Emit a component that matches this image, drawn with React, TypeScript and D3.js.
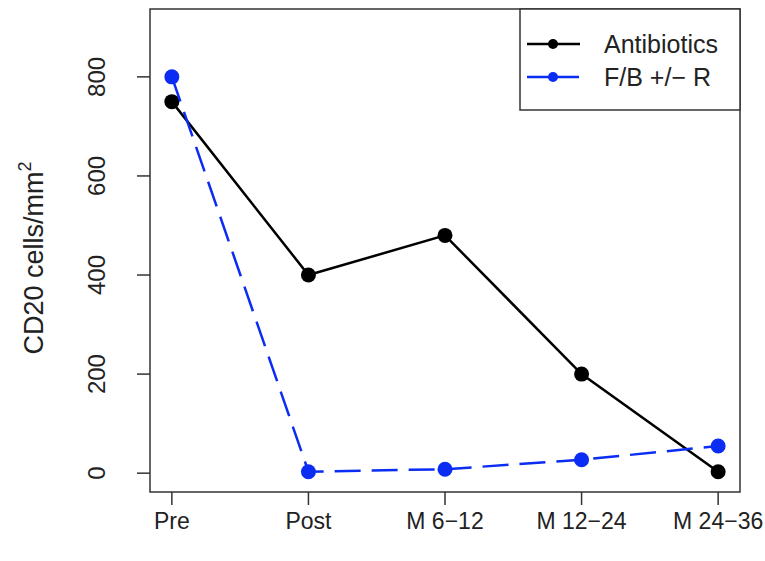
import React, { useRef, useEffect } from 'react';
import * as d3 from 'd3';

const categories = ['Pre', 'Post', 'M 6\u221212', 'M 12\u221224', 'M 24\u221236'];
const antibiotics = [750, 400, 480, 200, 3];
const fbr = [800, 3, 8, 27, 55];
const yTicks = [0, 200, 400, 600, 800];
const seriesNames = ['Antibiotics', 'F/B +/\u2212 R'];

const W = 765;
const H = 561;
const BLUE = '#0b2cf2';

const App = () => {
  const svgRef = useRef<SVGSVGElement>(null);

  useEffect(() => {
    const svg = d3.select(svgRef.current);
    svg.selectAll('*').remove();

    const left = 150, right = 740, top = 9, bottom = 492;
    const font = 'Liberation Sans, Arial, Helvetica, sans-serif';

    const x = d3.scaleLinear().domain([0.84, 5.16]).range([left, right]);
    const y = d3.scaleLinear().domain([-38, 937]).range([bottom, top]);

    // box
    svg.append('rect')
      .attr('x', left).attr('y', top)
      .attr('width', right - left).attr('height', bottom - top)
      .attr('fill', 'none').attr('stroke', '#333').attr('stroke-width', 1.5);

    // y axis
    const yAxis = svg.append('g');
    yAxis.selectAll('line.tick')
      .data(yTicks)
      .enter().append('line')
      .attr('class', 'tick')
      .attr('x1', left - 13).attr('x2', left)
      .attr('y1', d => y(d)).attr('y2', d => y(d))
      .attr('stroke', '#333').attr('stroke-width', 1.5);
    yAxis.selectAll('text')
      .data(yTicks)
      .enter().append('text')
      .attr('transform', d => `translate(${left - 45}, ${y(d)}) rotate(-90)`)
      .attr('text-anchor', 'middle')
      .attr('font-family', font)
      .attr('font-size', 24)
      .attr('fill', '#222')
      .text(d => d);

    // y label
    const yl = svg.append('text')
      .attr('transform', `translate(43, 258) rotate(-90)`)
      .attr('text-anchor', 'middle')
      .attr('font-family', font)
      .attr('font-size', 27)
      .attr('fill', '#222');
    yl.append('tspan').text('CD20 cells/mm');
    yl.append('tspan').attr('dy', -12).attr('font-size', 18).text('2');

    // x axis
    const xAxis = svg.append('g');
    xAxis.selectAll('line')
      .data(categories)
      .enter().append('line')
      .attr('x1', (d, i) => x(i + 1)).attr('x2', (d, i) => x(i + 1))
      .attr('y1', bottom).attr('y2', bottom + 13)
      .attr('stroke', '#333').attr('stroke-width', 1.5);
    xAxis.selectAll('text')
      .data(categories)
      .enter().append('text')
      .attr('x', (d, i) => x(i + 1))
      .attr('y', bottom + 37)
      .attr('text-anchor', 'middle')
      .attr('font-family', font)
      .attr('font-size', 23)
      .attr('fill', '#222')
      .text(d => d);

    const line = d3.line<number>()
      .x((d, i) => x(i + 1))
      .y(d => y(d));

    // antibiotics
    svg.append('path')
      .datum(antibiotics)
      .attr('d', line)
      .attr('fill', 'none')
      .attr('stroke', '#000')
      .attr('stroke-width', 2.5);
    svg.selectAll('circle.ab')
      .data(antibiotics)
      .enter().append('circle')
      .attr('class', 'ab')
      .attr('cx', (d, i) => x(i + 1))
      .attr('cy', d => y(d))
      .attr('r', 7.5)
      .attr('fill', '#000');

    // F/B +/- R
    svg.append('path')
      .datum(fbr)
      .attr('d', line)
      .attr('fill', 'none')
      .attr('stroke', BLUE)
      .attr('stroke-width', 2.5)
      .attr('stroke-dasharray', '26 11');
    svg.selectAll('circle.fb')
      .data(fbr)
      .enter().append('circle')
      .attr('class', 'fb')
      .attr('cx', (d, i) => x(i + 1))
      .attr('cy', d => y(d))
      .attr('r', 7.5)
      .attr('fill', BLUE);

    // legend
    const lg = svg.append('g');
    lg.append('rect')
      .attr('x', 520).attr('y', top)
      .attr('width', right - 520).attr('height', 101)
      .attr('fill', '#fff').attr('stroke', '#333').attr('stroke-width', 1.5);
    const rows = lg.selectAll('g.row')
      .data(seriesNames)
      .enter().append('g')
      .attr('class', 'row')
      .attr('transform', (d, i) => `translate(0, ${44 + i * 33})`);
    rows.append('line')
      .attr('x1', 527).attr('x2', 580)
      .attr('y1', 0).attr('y2', 0)
      .attr('stroke', (d, i) => (i === 0 ? '#000' : BLUE))
      .attr('stroke-width', 2.5)
      .attr('stroke-dasharray', (d, i) => (i === 0 ? null : '22 8'));
    rows.append('circle')
      .attr('cx', 553).attr('cy', 0).attr('r', 5)
      .attr('fill', (d, i) => (i === 0 ? '#000' : BLUE));
    rows.append('text')
      .attr('x', 604).attr('y', 9)
      .attr('font-family', font)
      .attr('font-size', 25)
      .attr('fill', '#222')
      .text(d => d);
  }, []);

  return (
    <svg
      ref={svgRef}
      width={W}
      height={H}
      style={{ position: 'absolute', left: 0, top: 0, background: '#fff' }}
    />
  );
};

export default App;
